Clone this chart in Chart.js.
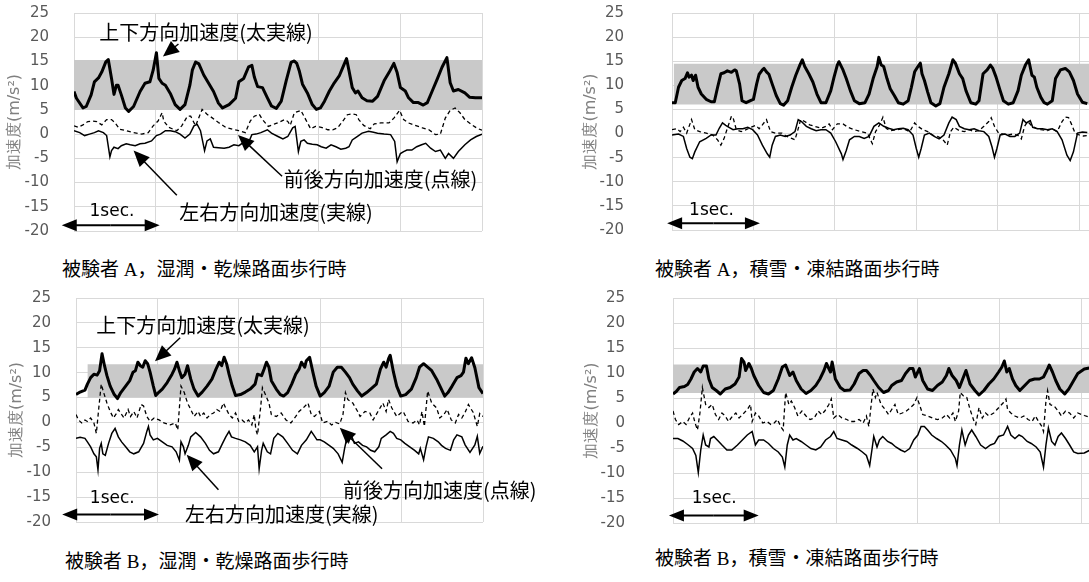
<!DOCTYPE html>
<html>
<head>
<meta charset="utf-8">
<script src="https://cdn.jsdelivr.net/npm/chart.js@4.4.0/dist/chart.umd.min.js"></script>
<style>
body { margin: 0; background: #fff; }
#page { position: relative; width: 1089px; height: 582px; overflow: hidden; background: #fff; }
.box { position: absolute; }
.cap { position: absolute; font-family: "Liberation Serif", "Noto Sans CJK JP", serif; font-size: 19px; color: #000; white-space: nowrap; line-height: 24px; }
</style>
</head>
<body>
<div id="page">
  <div class="box" style="left:0px;top:0px;width:545px;height:250px"><canvas id="c1"></canvas></div>
  <div class="box" style="left:576px;top:0px;width:552px;height:250px"><canvas id="c2"></canvas></div>
  <div class="box" style="left:2px;top:285px;width:543px;height:260px"><canvas id="c3"></canvas></div>
  <div class="box" style="left:577px;top:285px;width:553px;height:260px"><canvas id="c4"></canvas></div>
  <div class="cap" style="left:62px;top:258px">被験者 A，湿潤・乾燥路面歩行時</div>
  <div class="cap" style="left:655px;top:258px">被験者 A，積雪・凍結路面歩行時</div>
  <div class="cap" style="left:65px;top:550px">被験者 B，湿潤・乾燥路面歩行時</div>
  <div class="cap" style="left:655px;top:547px">被験者 B，積雪・凍結路面歩行時</div>
</div>
<script>
// tick labels of the y axis
var yTicks = [-20, -15, -10, -5, 0, 5, 10, 15, 20, 25];
var yTitle = "加速度(m/s²)";

// gray band (min, max) for each panel, and the time where it starts
var p1Band = [5.0, 15.3];
var p2Band = [6.0, 14.5];
var p3Band = [5.0, 11.7];
var p4Band = [6.0, 11.7];
var bandStart = [0, 0.02, 0.14, 0];

// ---- subject A, wet / dry road ----  [time (s), acceleration (m/s2)]
var p1Vertical = [[0,8.8],[0.03,7.4],[0.11,5.4],[0.15,5.7],[0.21,8.1],[0.25,10.8],[0.30,11.6],[0.34,12.8],[0.39,14.9],[0.42,15.4],[0.46,11.5],[0.49,8.2],[0.52,10.1],[0.54,10.1],[0.58,8.1],[0.63,5.4],[0.67,4.7],[0.73,5.7],[0.81,8.8],[0.87,10.5],[0.93,10.8],[0.97,13.2],[1.01,16.8],[1.04,11.5],[1.08,10.5],[1.12,10.1],[1.18,8.4],[1.24,6.1],[1.30,5.1],[1.36,6.1],[1.42,10.1],[1.45,13.2],[1.49,14.9],[1.53,14.5],[1.59,12.2],[1.65,10.5],[1.71,8.8],[1.77,6.4],[1.82,5.4],[1.90,6.1],[1.98,7.4],[2.02,10.8],[2.08,11.5],[2.14,13.9],[2.18,14.2],[2.21,11.8],[2.25,9.8],[2.31,9.6],[2.37,7.5],[2.42,5.8],[2.48,5.3],[2.54,6.8],[2.60,11.0],[2.66,14.8],[2.70,15.1],[2.73,14.6],[2.76,13.1],[2.80,10.3],[2.86,8.5],[2.92,6.1],[2.97,5.1],[3.02,5.4],[3.07,6.8],[3.13,8.9],[3.19,10.6],[3.25,12.0],[3.31,14.4],[3.34,15.6],[3.37,13.1],[3.41,9.6],[3.45,8.5],[3.48,8.9],[3.53,7.5],[3.59,6.9],[3.66,6.8],[3.72,7.8],[3.80,11.0],[3.86,12.7],[3.92,14.6],[3.96,12.7],[4.00,9.6],[4.06,8.9],[4.10,7.5],[4.16,6.5],[4.22,6.5],[4.28,6.0],[4.33,6.5],[4.39,8.9],[4.45,11.3],[4.51,13.8],[4.57,15.8],[4.61,10.6],[4.65,8.9],[4.71,9.2],[4.79,8.5],[4.85,7.6],[4.92,7.5],[5.0,7.5]];
var p1ForeAft = [[0,1.7],[0.05,1.4],[0.11,1.9],[0.17,2.6],[0.23,2.7],[0.28,2.6],[0.34,1.9],[0.40,3.0],[0.46,3.0],[0.50,2.4],[0.56,1.0],[0.64,0.7],[0.73,0.3],[0.83,0],[0.91,0.3],[0.97,1.7],[1.03,2.7],[1.08,4.4],[1.10,2.7],[1.16,1.4],[1.26,0.7],[1.32,1.7],[1.39,3.7],[1.43,3.7],[1.49,1.7],[1.57,5.1],[1.63,4.1],[1.69,3.4],[1.77,2.4],[1.86,1.4],[1.94,1.0],[2.02,0.7],[2.10,0.3],[2.16,2.7],[2.21,3.7],[2.27,4.1],[2.31,3.0],[2.38,1.6],[2.46,2.1],[2.52,2.5],[2.58,3.0],[2.62,2.6],[2.65,1.8],[2.70,4.4],[2.78,4.9],[2.84,3.0],[2.90,1.1],[2.96,1.6],[3.03,1.4],[3.11,0.9],[3.17,0.9],[3.23,1.3],[3.29,2.6],[3.35,4.0],[3.41,4.2],[3.46,4.0],[3.49,3.0],[3.55,1.8],[3.63,1.1],[3.68,2.1],[3.76,2.3],[3.86,2.3],[3.92,3.3],[3.99,4.9],[4.04,3.0],[4.10,2.3],[4.18,1.8],[4.27,1.3],[4.35,0.9],[4.43,-0.1],[4.49,0],[4.55,3.3],[4.61,4.9],[4.67,5.4],[4.73,4.4],[4.79,3.0],[4.87,2.0],[4.94,1.2],[5.0,0.8]];
var p1Lateral = [[0,0.7],[0.07,0.3],[0.13,-0.3],[0.19,0],[0.25,0.3],[0.30,0.7],[0.36,0.3],[0.40,-0.3],[0.44,-4.7],[0.46,-3.4],[0.49,-2.7],[0.54,-3.0],[0.58,-2.4],[0.64,-2.0],[0.69,-2.2],[0.75,-2.4],[0.81,-2.0],[0.87,-1.9],[0.95,-1.4],[1.01,-0.3],[1.06,0],[1.12,0.7],[1.18,0.7],[1.24,0.5],[1.30,0],[1.36,-0.8],[1.42,0],[1.47,1.7],[1.51,2.0],[1.55,0.7],[1.60,-3.4],[1.63,-1.4],[1.67,-1.0],[1.71,-2.7],[1.77,-2.8],[1.84,-2.9],[1.90,-2.7],[1.96,-2.2],[2.02,-2.4],[2.08,-1.7],[2.14,-1.7],[2.18,-0.1],[2.23,0],[2.29,0.3],[2.37,0.9],[2.42,0.2],[2.50,-0.5],[2.56,-1.0],[2.62,-0.5],[2.68,1.3],[2.71,1.6],[2.75,-3.6],[2.78,-1.5],[2.82,-1.2],[2.86,-1.9],[2.92,-2.1],[2.98,-2.2],[3.03,-2.6],[3.09,-2.9],[3.15,-2.2],[3.21,-2.6],[3.27,-3.1],[3.33,-2.9],[3.37,-2.6],[3.41,-1.2],[3.47,-0.5],[3.53,0.2],[3.61,0.6],[3.67,0.4],[3.72,0.2],[3.80,0],[3.88,-0.1],[3.93,-1.5],[3.96,-5.7],[4.00,-4.0],[4.04,-3.6],[4.08,-3.3],[4.14,-3.3],[4.20,-2.6],[4.26,-2.2],[4.31,-1.9],[4.37,-2.9],[4.43,-3.6],[4.49,-3.3],[4.55,-5.0],[4.59,-4.0],[4.65,-5.0],[4.71,-3.6],[4.79,-2.2],[4.86,-1.2],[4.93,-0.5],[5.0,0]];

// ---- subject A, snow / ice road ----
var p2Vertical = [[0,6.4],[0.04,6.4],[0.08,9.6],[0.12,11.0],[0.16,11.4],[0.19,12.6],[0.21,11.7],[0.24,12.1],[0.26,11.0],[0.29,12.1],[0.32,9.6],[0.36,8.2],[0.42,7.1],[0.48,6.6],[0.52,6.6],[0.56,9.6],[0.60,12.4],[0.64,12.6],[0.68,13.0],[0.73,12.7],[0.77,13.2],[0.79,13.0],[0.83,10.3],[0.86,6.8],[0.91,6.4],[0.97,6.9],[1.0,7.1],[1.04,10.3],[1.07,12.3],[1.11,13.2],[1.13,13.5],[1.16,12.8],[1.19,12.3],[1.23,10.3],[1.28,7.9],[1.33,6.2],[1.37,5.9],[1.42,6.8],[1.47,9.6],[1.52,12.1],[1.57,14.2],[1.60,15.3],[1.63,13.9],[1.68,12.4],[1.73,10.7],[1.78,8.2],[1.83,6.4],[1.89,6.4],[1.95,8.9],[1.99,11.7],[2.03,14.2],[2.05,14.9],[2.10,13.2],[2.14,11.4],[2.19,8.9],[2.24,6.8],[2.30,6.2],[2.37,6.4],[2.42,8.2],[2.47,11.4],[2.52,13.9],[2.54,15.8],[2.57,14.2],[2.60,13.9],[2.64,11.4],[2.68,9.3],[2.73,7.9],[2.78,6.4],[2.84,6.1],[2.90,6.8],[2.94,9.6],[2.98,12.8],[3.02,13.9],[3.05,14.6],[3.07,12.4],[3.10,11.0],[3.14,8.6],[3.18,6.4],[3.24,5.7],[3.29,6.2],[3.34,9.6],[3.40,12.4],[3.45,15.3],[3.48,14.6],[3.53,12.4],[3.57,11.4],[3.61,8.9],[3.67,6.4],[3.73,6.1],[3.77,6.8],[3.82,12.4],[3.87,13.2],[3.91,14.2],[3.94,13.5],[3.98,11.7],[4.03,8.9],[4.07,6.8],[4.13,6.1],[4.19,6.4],[4.25,8.9],[4.29,12.1],[4.34,14.2],[4.38,15.3],[4.42,12.1],[4.45,11.7],[4.48,9.6],[4.53,7.5],[4.57,6.4],[4.61,6.1],[4.67,6.8],[4.71,11.4],[4.77,13.2],[4.83,13.5],[4.88,12.8],[4.93,11.0],[4.98,8.2],[5.04,6.5],[5.1,6.2]];
var p2ForeAft = [[0,0.8],[0.06,1.0],[0.10,0.4],[0.14,1.3],[0.18,0.1],[0.24,2.9],[0.28,0.8],[0.34,0.4],[0.42,0.1],[0.50,-0.3],[0.56,-1.3],[0.60,-2.4],[0.64,-1.0],[0.68,1.1],[0.73,3.6],[0.75,3.3],[0.79,0.8],[0.85,0.4],[0.91,0.8],[0.97,1.3],[1.03,1.7],[1.07,1.0],[1.11,1.8],[1.16,2.9],[1.21,0.4],[1.27,0.1],[1.35,0.1],[1.41,-0.6],[1.47,-1.0],[1.51,-1.3],[1.54,0.4],[1.58,2.9],[1.63,2.5],[1.69,1.8],[1.75,1.5],[1.83,1.1],[1.89,1.5],[1.93,2.0],[1.97,0.8],[2.03,2.0],[2.10,2.0],[2.16,1.3],[2.24,0.8],[2.32,0.4],[2.40,0.1],[2.46,-2.1],[2.50,0.4],[2.55,1.8],[2.59,3.4],[2.63,1.1],[2.68,0.6],[2.76,0.8],[2.84,1.0],[2.92,0.4],[2.98,2.2],[3.02,1.5],[3.08,0.8],[3.14,0.4],[3.20,-0.3],[3.26,-0.6],[3.32,-1.1],[3.38,-2.4],[3.42,0.4],[3.46,1.3],[3.53,0.6],[3.59,0.4],[3.65,0.8],[3.71,0.4],[3.77,0.6],[3.83,1.5],[3.89,2.5],[3.92,3.3],[3.96,1.5],[4.01,0.1],[4.07,-0.1],[4.13,-0.3],[4.19,-0.1],[4.25,-0.4],[4.29,-1.1],[4.33,1.5],[4.37,2.5],[4.41,1.7],[4.47,1.1],[4.53,0.8],[4.61,0.6],[4.67,1.0],[4.73,0.4],[4.79,2.5],[4.83,3.4],[4.87,3.3],[4.91,1.8],[4.95,0.1],[5.0,-0.3],[5.05,-0.5],[5.1,-0.4]];
var p2Lateral = [[0,-0.3],[0.08,-0.1],[0.14,-0.6],[0.18,-3.1],[0.22,-4.9],[0.25,-5.2],[0.28,-3.8],[0.34,-1.7],[0.42,-1.0],[0.48,-0.3],[0.54,-0.3],[0.58,1.1],[0.62,2.2],[0.66,1.7],[0.70,1.3],[0.75,0.8],[0.81,1.0],[0.87,1.0],[0.93,1.3],[0.99,0.8],[1.05,-0.3],[1.11,-2.4],[1.17,-4.2],[1.20,-4.9],[1.23,-2.4],[1.27,-0.6],[1.33,-0.3],[1.39,-0.6],[1.45,-0.3],[1.51,0.4],[1.55,2.9],[1.59,2.5],[1.65,1.5],[1.71,1.0],[1.77,0.6],[1.83,0.8],[1.89,0.8],[1.95,0.1],[2.01,-1.7],[2.08,-4.2],[2.10,-5.4],[2.14,-3.5],[2.18,-1.3],[2.24,-0.6],[2.30,-0.6],[2.36,-1.0],[2.42,-0.6],[2.48,1.5],[2.54,2.2],[2.60,1.5],[2.66,1.1],[2.72,0.8],[2.78,1.0],[2.84,1.1],[2.90,0.8],[2.96,-0.3],[3.00,-3.1],[3.03,-4.9],[3.06,-3.1],[3.10,-0.3],[3.16,0.1],[3.22,-0.6],[3.28,-1.1],[3.34,-0.3],[3.40,2.2],[3.44,3.4],[3.49,2.9],[3.53,1.5],[3.59,1.0],[3.65,0.8],[3.71,1.0],[3.77,0.6],[3.83,0.4],[3.89,-0.6],[3.93,-2.8],[3.96,-4.9],[3.99,-3.1],[4.03,-0.3],[4.09,-0.1],[4.15,-0.6],[4.21,-0.6],[4.27,0.1],[4.31,2.9],[4.35,2.2],[4.40,2.7],[4.43,1.3],[4.49,1.0],[4.55,1.0],[4.61,0.8],[4.67,1.0],[4.73,0.4],[4.79,-1.3],[4.85,-4.5],[4.89,-5.6],[4.93,-3.8],[4.98,0.1],[5.04,0.3],[5.1,0.2]];

// ---- subject B, wet / dry road ----
var p3Vertical = [[0,5.6],[0.05,6.1],[0.11,6.5],[0.14,7.7],[0.18,9.0],[0.22,9.7],[0.26,9.5],[0.29,10.4],[0.32,13.8],[0.35,11.4],[0.38,9.4],[0.42,7.3],[0.47,5.6],[0.51,4.8],[0.55,6.0],[0.61,7.3],[0.66,8.4],[0.70,10.1],[0.73,10.4],[0.76,12.1],[0.79,11.4],[0.82,11.1],[0.85,12.4],[0.88,11.8],[0.91,10.1],[0.95,7.3],[0.98,5.4],[1.02,6.1],[1.06,6.7],[1.12,8.0],[1.18,9.7],[1.21,10.7],[1.24,12.1],[1.27,10.4],[1.30,9.0],[1.34,9.7],[1.37,11.4],[1.41,8.7],[1.45,6.7],[1.50,5.3],[1.55,6.1],[1.61,7.3],[1.67,8.7],[1.72,10.7],[1.76,12.1],[1.79,11.4],[1.82,13.1],[1.85,11.8],[1.88,9.7],[1.92,7.3],[1.96,5.4],[2.02,5.6],[2.08,6.1],[2.14,6.7],[2.20,7.7],[2.23,9.7],[2.28,9.4],[2.31,10.7],[2.34,12.1],[2.37,11.1],[2.40,8.4],[2.46,6.7],[2.51,5.6],[2.55,5.3],[2.60,6.0],[2.65,7.7],[2.70,9.7],[2.74,10.7],[2.77,12.1],[2.81,11.1],[2.83,12.4],[2.87,13.1],[2.91,10.1],[2.95,7.3],[3.00,5.3],[3.05,6.0],[3.11,7.3],[3.16,10.1],[3.21,11.1],[3.26,11.1],[3.31,10.1],[3.36,9.0],[3.40,7.7],[3.46,6.3],[3.51,5.3],[3.57,6.0],[3.62,6.7],[3.69,7.7],[3.74,10.7],[3.78,12.1],[3.81,11.1],[3.84,12.8],[3.86,13.5],[3.90,10.1],[3.94,7.3],[3.99,5.3],[4.05,5.6],[4.12,6.7],[4.18,9.0],[4.22,11.1],[4.27,11.8],[4.32,11.1],[4.37,10.4],[4.43,8.7],[4.48,7.0],[4.53,5.3],[4.57,6.0],[4.62,7.3],[4.68,9.0],[4.73,9.4],[4.76,10.1],[4.79,12.9],[4.82,11.8],[4.86,13.0],[4.90,11.0],[4.95,7.0],[5.0,5.8]];
var p3ForeAft = [[0,1.6],[0.03,0.5],[0.07,-0.1],[0.11,0.5],[0.14,0.2],[0.18,0.9],[0.22,-0.1],[0.25,-2.2],[0.28,2.9],[0.31,7.7],[0.34,6.0],[0.38,3.9],[0.42,2.2],[0.46,0.9],[0.50,1.9],[0.52,2.6],[0.56,1.6],[0.59,0.9],[0.64,2.6],[0.67,1.2],[0.71,2.2],[0.75,0.9],[0.80,3.6],[0.83,3.3],[0.87,1.2],[0.91,0.2],[0.96,0.9],[1.02,0.5],[1.08,-0.1],[1.16,-0.5],[1.22,-0.1],[1.25,-1.5],[1.29,7.3],[1.33,6.0],[1.37,3.9],[1.41,2.6],[1.45,1.2],[1.50,2.2],[1.53,1.2],[1.57,1.9],[1.61,0.9],[1.65,1.6],[1.69,1.9],[1.73,2.6],[1.77,2.2],[1.81,3.9],[1.84,2.9],[1.88,1.6],[1.92,0.9],[1.96,1.9],[2.00,0.2],[2.04,0.5],[2.08,-0.1],[2.12,0.5],[2.16,-0.5],[2.19,1.6],[2.21,-1.5],[2.23,-2.5],[2.27,3.3],[2.29,7.0],[2.33,5.5],[2.37,3.9],[2.40,1.6],[2.46,1.2],[2.52,1.9],[2.58,0.5],[2.64,-0.1],[2.70,1.2],[2.74,2.2],[2.79,2.9],[2.85,3.9],[2.89,1.6],[2.93,1.2],[2.99,2.2],[3.03,-0.1],[3.09,0.2],[3.14,-0.5],[3.19,0],[3.24,-0.3],[3.28,1.6],[3.31,6.0],[3.34,4.6],[3.40,3.9],[3.46,2.2],[3.49,1.2],[3.55,2.2],[3.61,1.9],[3.65,0.5],[3.71,2.2],[3.77,3.9],[3.81,2.2],[3.84,4.6],[3.88,2.9],[3.94,1.2],[3.99,1.9],[4.02,2.2],[4.08,0.2],[4.14,-0.1],[4.19,0.5],[4.22,-0.5],[4.25,2.2],[4.28,-0.8],[4.32,6.3],[4.37,3.9],[4.43,2.9],[4.47,0.9],[4.52,1.6],[4.56,2.6],[4.61,0.5],[4.66,-0.1],[4.70,1.6],[4.74,0.9],[4.78,2.0],[4.82,3.6],[4.88,2.0],[4.93,-0.8],[4.96,1.8],[5.0,1.2]];
var p3Lateral = [[0,-3.2],[0.05,-3.0],[0.11,-3.2],[0.14,-3.9],[0.18,-4.9],[0.22,-6.3],[0.25,-6.9],[0.27,-9.5],[0.29,-5.2],[0.31,-4.2],[0.33,-6.3],[0.36,-6.6],[0.40,-4.2],[0.44,-2.2],[0.48,-1.2],[0.52,-2.9],[0.56,-3.9],[0.61,-4.9],[0.66,-5.9],[0.71,-6.3],[0.77,-5.9],[0.83,-4.2],[0.87,-1.8],[0.89,-0.8],[0.91,-2.5],[0.95,-3.5],[1.00,-3.2],[1.06,-3.9],[1.12,-4.6],[1.18,-4.9],[1.23,-5.9],[1.27,-7.6],[1.29,-3.9],[1.32,-4.9],[1.34,-6.3],[1.38,-4.6],[1.41,-2.9],[1.47,-2.0],[1.53,-2.9],[1.59,-4.2],[1.64,-5.6],[1.69,-6.3],[1.75,-5.9],[1.80,-4.2],[1.84,-2.9],[1.88,-1.8],[1.91,-2.9],[1.96,-3.2],[2.02,-3.5],[2.08,-3.9],[2.14,-4.6],[2.19,-5.9],[2.23,-4.9],[2.25,-9.3],[2.28,-5.6],[2.30,-4.2],[2.35,-5.9],[2.39,-6.3],[2.43,-3.2],[2.48,-2.2],[2.54,-2.9],[2.60,-4.2],[2.66,-5.6],[2.72,-6.3],[2.77,-4.6],[2.83,-3.5],[2.89,-1.8],[2.92,-2.5],[2.96,-3.5],[3.00,-3.5],[3.05,-3.9],[3.11,-4.6],[3.16,-5.2],[3.22,-6.3],[3.27,-8.0],[3.30,-5.2],[3.33,-2.9],[3.35,-3.9],[3.38,-2.5],[3.42,-4.2],[3.47,-3.9],[3.52,-4.6],[3.57,-4.9],[3.62,-5.6],[3.67,-5.9],[3.72,-4.9],[3.75,-3.2],[3.81,-2.5],[3.86,-1.8],[3.90,-2.2],[3.94,-3.2],[3.99,-3.5],[4.04,-4.2],[4.10,-4.9],[4.16,-5.6],[4.21,-6.3],[4.23,-5.2],[4.27,-7.5],[4.30,-4.9],[4.33,-2.9],[4.39,-3.2],[4.45,-3.9],[4.49,-4.6],[4.54,-5.2],[4.60,-5.6],[4.64,-3.5],[4.68,-2.5],[4.74,-2.9],[4.78,-4.5],[4.84,-6.0],[4.90,-4.5],[4.93,-2.8],[4.96,-6.2],[5.0,-4.8]];

// ---- subject B, snow / ice road ----
var p4Vertical = [[0,5.8],[0.04,6.3],[0.08,7.1],[0.14,7.3],[0.18,7.7],[0.22,8.8],[0.26,10.2],[0.30,10.9],[0.34,10.2],[0.37,11.4],[0.41,11.4],[0.44,8.8],[0.48,7.1],[0.53,6.5],[0.58,5.8],[0.64,6.8],[0.70,7.1],[0.76,7.8],[0.81,9.2],[0.84,12.9],[0.87,12.2],[0.89,10.5],[0.93,11.9],[0.96,10.9],[0.99,9.5],[1.05,7.5],[1.11,6.1],[1.17,5.8],[1.23,6.5],[1.29,8.8],[1.34,11.2],[1.38,11.6],[1.43,9.5],[1.47,10.2],[1.51,8.5],[1.57,6.8],[1.63,5.9],[1.69,6.5],[1.75,7.5],[1.80,8.8],[1.85,10.5],[1.88,11.9],[1.93,10.2],[1.95,12.2],[1.99,8.8],[2.05,7.1],[2.10,6.5],[2.17,6.6],[2.22,7.8],[2.28,9.9],[2.33,10.5],[2.37,10.5],[2.42,9.5],[2.46,8.5],[2.52,7.1],[2.58,6.1],[2.64,6.5],[2.68,7.5],[2.74,8.2],[2.80,8.5],[2.85,9.9],[2.90,10.9],[2.94,10.9],[2.97,9.2],[3.02,10.9],[3.06,8.5],[3.12,6.8],[3.18,6.5],[3.24,7.5],[3.30,8.2],[3.35,9.5],[3.38,10.9],[3.42,9.5],[3.47,8.5],[3.51,7.1],[3.55,8.8],[3.59,10.5],[3.64,7.8],[3.70,6.5],[3.75,5.6],[3.81,6.5],[3.87,7.8],[3.93,8.8],[3.99,10.2],[4.03,11.2],[4.06,12.4],[4.09,10.2],[4.12,10.9],[4.16,8.8],[4.20,7.5],[4.25,6.5],[4.31,7.5],[4.37,8.5],[4.43,8.8],[4.49,8.8],[4.54,9.2],[4.58,10.5],[4.61,11.6],[4.65,10.2],[4.69,8.5],[4.74,6.8],[4.80,5.8],[4.85,6.8],[4.91,8.5],[4.96,9.9],[5.04,10.8],[5.1,11.0]];
var p4ForeAft = [[0,2.4],[0.03,0.7],[0.07,-0.3],[0.12,0.3],[0.16,-0.3],[0.20,1.0],[0.24,2.0],[0.27,0],[0.30,-1.4],[0.33,2.0],[0.36,7.1],[0.40,3.7],[0.44,3.1],[0.48,3.7],[0.52,1.7],[0.56,0.7],[0.60,2.0],[0.64,1.4],[0.68,0.3],[0.73,1.4],[0.77,2.0],[0.81,1.0],[0.87,2.0],[0.91,2.7],[0.95,3.7],[0.97,0.3],[1.01,2.0],[1.05,1.4],[1.10,0],[1.15,0.3],[1.20,-0.3],[1.24,0],[1.28,0.7],[1.32,-0.7],[1.35,-1.4],[1.38,6.1],[1.42,3.7],[1.45,4.4],[1.49,3.1],[1.53,1.4],[1.58,2.4],[1.63,1.4],[1.68,0.7],[1.73,1.0],[1.78,2.4],[1.82,1.7],[1.86,2.4],[1.91,3.7],[1.94,4.8],[1.97,1.0],[2.02,1.7],[2.07,1.0],[2.13,0.7],[2.17,0.3],[2.22,0.3],[2.28,0.7],[2.33,0],[2.37,1.4],[2.40,-0.7],[2.42,2.4],[2.45,6.8],[2.48,5.1],[2.50,6.1],[2.55,3.7],[2.60,2.7],[2.64,1.7],[2.68,2.7],[2.72,3.7],[2.76,1.7],[2.81,2.0],[2.86,2.4],[2.91,3.1],[2.95,3.7],[2.99,5.1],[3.02,3.7],[3.06,1.7],[3.12,1.4],[3.18,1.0],[3.24,0.7],[3.30,1.0],[3.35,1.7],[3.39,1.0],[3.43,2.0],[3.46,0.3],[3.50,2.4],[3.52,6.1],[3.56,5.4],[3.60,5.1],[3.64,2.7],[3.69,0.3],[3.71,-0.3],[3.75,3.1],[3.79,1.0],[3.83,2.0],[3.87,1.4],[3.93,2.0],[3.97,2.7],[4.01,3.4],[4.05,4.1],[4.08,4.8],[4.10,2.7],[4.14,2.0],[4.19,1.4],[4.25,1.0],[4.30,1.4],[4.35,0.7],[4.40,0.3],[4.44,1.4],[4.48,0.3],[4.52,-0.7],[4.54,-1.7],[4.57,4.4],[4.59,6.5],[4.62,3.7],[4.67,3.4],[4.72,2.4],[4.76,1.4],[4.81,2.4],[4.86,2.0],[4.91,1.0],[4.96,2.0],[5.04,1.5],[5.1,1.2]];
var p4Lateral = [[0,-3.1],[0.06,-3.1],[0.12,-3.6],[0.18,-4.3],[0.24,-5.1],[0.28,-6.5],[0.31,-9.9],[0.34,-5.4],[0.37,-2.4],[0.40,-4.4],[0.44,-4.8],[0.46,-3.1],[0.50,-2.7],[0.56,-3.7],[0.60,-4.4],[0.66,-5.4],[0.72,-5.4],[0.79,-4.4],[0.85,-3.4],[0.91,-2.4],[0.97,-1.7],[1.01,-4.4],[1.05,-3.4],[1.11,-3.4],[1.17,-4.1],[1.23,-5.1],[1.29,-5.8],[1.34,-6.8],[1.37,-8.8],[1.40,-4.4],[1.43,-2.4],[1.47,-3.4],[1.51,-3.1],[1.57,-3.7],[1.63,-4.4],[1.69,-5.1],[1.75,-5.4],[1.81,-4.8],[1.87,-3.4],[1.93,-2.7],[1.97,-1.7],[2.01,-3.1],[2.07,-3.4],[2.13,-3.7],[2.19,-4.4],[2.26,-5.1],[2.32,-5.8],[2.37,-6.5],[2.41,-8.5],[2.44,-5.1],[2.46,-2.7],[2.50,-4.8],[2.53,-3.4],[2.57,-2.7],[2.63,-3.7],[2.68,-4.1],[2.73,-4.8],[2.79,-5.4],[2.84,-5.8],[2.90,-5.1],[2.95,-3.4],[3.00,-2.4],[3.04,-0.7],[3.08,-0.7],[3.12,-1.4],[3.17,-2.4],[3.23,-3.1],[3.29,-3.7],[3.34,-4.4],[3.40,-5.4],[3.46,-7.1],[3.48,-8.5],[3.51,-4.4],[3.54,-1.4],[3.58,-4.4],[3.62,-2.4],[3.66,-1.4],[3.71,-2.7],[3.77,-4.4],[3.83,-5.1],[3.89,-4.4],[3.94,-4.1],[3.99,-2.7],[4.05,-2.4],[4.10,-0.7],[4.14,-2.4],[4.19,-3.1],[4.24,-2.4],[4.28,-2.7],[4.34,-3.7],[4.39,-4.1],[4.45,-4.8],[4.50,-5.8],[4.54,-8.8],[4.57,-4.4],[4.60,-1.0],[4.64,-3.7],[4.68,-4.4],[4.72,-2.7],[4.76,-2.0],[4.81,-3.1],[4.86,-4.4],[4.91,-5.8],[4.96,-6.1],[5.04,-6.0],[5.1,-5.5]];

// posizione delle annotazioni (coordinate dei dati: tempo, accelerazione)
var notes1 = {
  texts: [[0.31, 21.0, "上下方向加速度(太実線)"], [2.57, -9.4, "前後方向加速度(点線)"], [1.29, -16.2, "左右方向加速度(実線)"]],
  arrows: [[1.28, 18.6, 1.09, 16.0], [2.55, -8.7, 2.01, -0.2], [1.26, -12.6, 0.73, -3.4]],
  sec: [0.19, -15.9], span: [-0.15, 1.05, -18.8]
};
var notes2 = { texts: [], arrows: [], sec: [0.21, -16.0], span: [-0.06, 1.08, -18.6] };
var notes3 = {
  texts: [[0.25, 19.5, "上下方向加速度(太実線)"], [3.28, -13.6, "前後方向加速度(点線)"], [1.34, -18.5, "左右方向加速度(実線)"]],
  arrows: [[1.28, 17.0, 0.97, 12.3], [3.76, -9.3, 3.24, -1.05], [1.75, -13.5, 1.36, -6.5]],
  sec: [0.17, -15.2], span: [-0.17, 1.02, -18.5]
};
var notes4 = { texts: [], arrows: [], sec: [0.23, -15.2], span: [-0.05, 1.05, -18.5] };

function toPoints(list) {
  return list.map(function(p) { return {x: p[0], y: p[1]}; });
}

// freccia con punta piena
function drawArrow(ctx, x1, y1, x2, y2, len, half) {
  var a = Math.atan2(y2 - y1, x2 - x1);
  var c = Math.cos(a), s = Math.sin(a);
  ctx.beginPath();
  ctx.moveTo(x1, y1);
  ctx.lineTo(x2 - c * len * 0.9, y2 - s * len * 0.9);
  ctx.stroke();
  ctx.beginPath();
  ctx.moveTo(x2, y2);
  ctx.lineTo(x2 - c * len - s * half, y2 - s * len + c * half);
  ctx.lineTo(x2 - c * len + s * half, y2 - s * len - c * half);
  ctx.closePath();
  ctx.fill();
}

var notesPlugin = {
  id: "notes",
  afterDraw: function(chart, args, opts) {
    var n = opts.notes;
    if (!n) return;
    var ctx = chart.ctx;
    var xs = chart.scales.x, ys = chart.scales.y;
    ctx.save();
    ctx.fillStyle = "#000";
    ctx.strokeStyle = "#000";
    ctx.textBaseline = "middle";
    ctx.textAlign = "left";
    ctx.font = '20px "Noto Sans CJK JP"';
    n.texts.forEach(function(t) {
      ctx.fillText(t[2], xs.getPixelForValue(t[0]), ys.getPixelForValue(t[1]));
    });
    ctx.lineWidth = 1.5;
    n.arrows.forEach(function(a) {
      drawArrow(ctx, xs.getPixelForValue(a[0]), ys.getPixelForValue(a[1]),
        xs.getPixelForValue(a[2]), ys.getPixelForValue(a[3]), 16, 7);
    });
    ctx.font = '17px "DejaVu Sans"';
    ctx.fillText("1sec.", xs.getPixelForValue(n.sec[0]), ys.getPixelForValue(n.sec[1]));
    // doppia freccia di 1 secondo
    var xa = xs.getPixelForValue(n.span[0]), xb = xs.getPixelForValue(n.span[1]);
    var yy = ys.getPixelForValue(n.span[2]);
    var xm = (xa + xb) / 2;
    ctx.lineWidth = 2;
    drawArrow(ctx, xm, yy, xa, yy, 15, 6);
    drawArrow(ctx, xm, yy, xb, yy, 15, 6);
    ctx.restore();
  }
};

function makeChart(id, vert, fore, lat, band, bStart, pad, xMax, axisW, tickPad, notes) {
  var ctx = document.getElementById(id).getContext("2d");
  return new Chart(ctx, {
    type: "line",
    data: {
      datasets: [
        { data: toPoints(vert), borderColor: "#000", borderWidth: 3, borderJoinStyle: "round", pointRadius: 0, fill: false },
        { data: toPoints(fore), borderColor: "#000", borderWidth: 1.3, borderDash: [4, 3], pointRadius: 0, fill: false },
        { data: toPoints(lat), borderColor: "#000", borderWidth: 1.5, pointRadius: 0, fill: false },
        { data: [{x: bStart, y: band[1]}, {x: xMax, y: band[1]}], borderWidth: 0, pointRadius: 0,
          backgroundColor: "#c9c9c9", fill: {value: band[0]} }
      ]
    },
    options: {
      responsive: true,
      maintainAspectRatio: false,
      animation: false,
      parsing: false,
      layout: { padding: pad },
      plugins: {
        legend: { display: false },
        tooltip: { enabled: false },
        filler: { drawTime: "beforeDatasetsDraw" },
        notes: { notes: notes }
      },
      scales: {
        x: {
          type: "linear", min: 0, max: xMax,
          ticks: { display: false, stepSize: 1, includeBounds: false },
          grid: { color: "#d9d9d9", drawTicks: false },
          border: { display: false },
          afterFit: function(s) { s.height = 0; s.paddingLeft = 0; s.paddingRight = 0; }
        },
        y: {
          min: yTicks[0], max: yTicks[yTicks.length - 1],
          afterBuildTicks: function(s) { s.ticks = yTicks.map(function(v) { return {value: v}; }); },
          ticks: { color: "#595959", padding: tickPad, font: { family: "DejaVu Sans", size: 15 } },
          grid: { color: "#d9d9d9", drawTicks: false },
          border: { display: false },
          title: { display: true, text: yTitle, color: "#808080", padding: { top: 5, bottom: 0 },
                   font: { family: "DejaVu Sans", size: 16 } },
          // fixed width, and no extra room above/below for the labels
          afterFit: function(s) { s.width = axisW; s.paddingTop = 0; s.paddingBottom = 0; }
        }
      }
    },
    plugins: [notesPlugin]
  });
}

makeChart("c1", p1Vertical, p1ForeAft, p1Lateral, p1Band, bandStart[0], {top: 13, right: 63, bottom: 19, left: 0}, 5, 74, 25, notes1);
makeChart("c2", p2Vertical, p2ForeAft, p2Lateral, p2Band, bandStart[1], {top: 13, right: 0, bottom: 20, left: 0}, 5.6, 96, 48, notes2);
makeChart("c3", p3Vertical, p3ForeAft, p3Lateral, p3Band, bandStart[2], {top: 13, right: 62, bottom: 23, left: 0}, 5, 74, 25, notes3);
makeChart("c4", p4Vertical, p4ForeAft, p4Lateral, p4Band, bandStart[3], {top: 13, right: 0, bottom: 22, left: 0}, 5.6, 96, 48, notes4);
</script>
</body>
</html>
